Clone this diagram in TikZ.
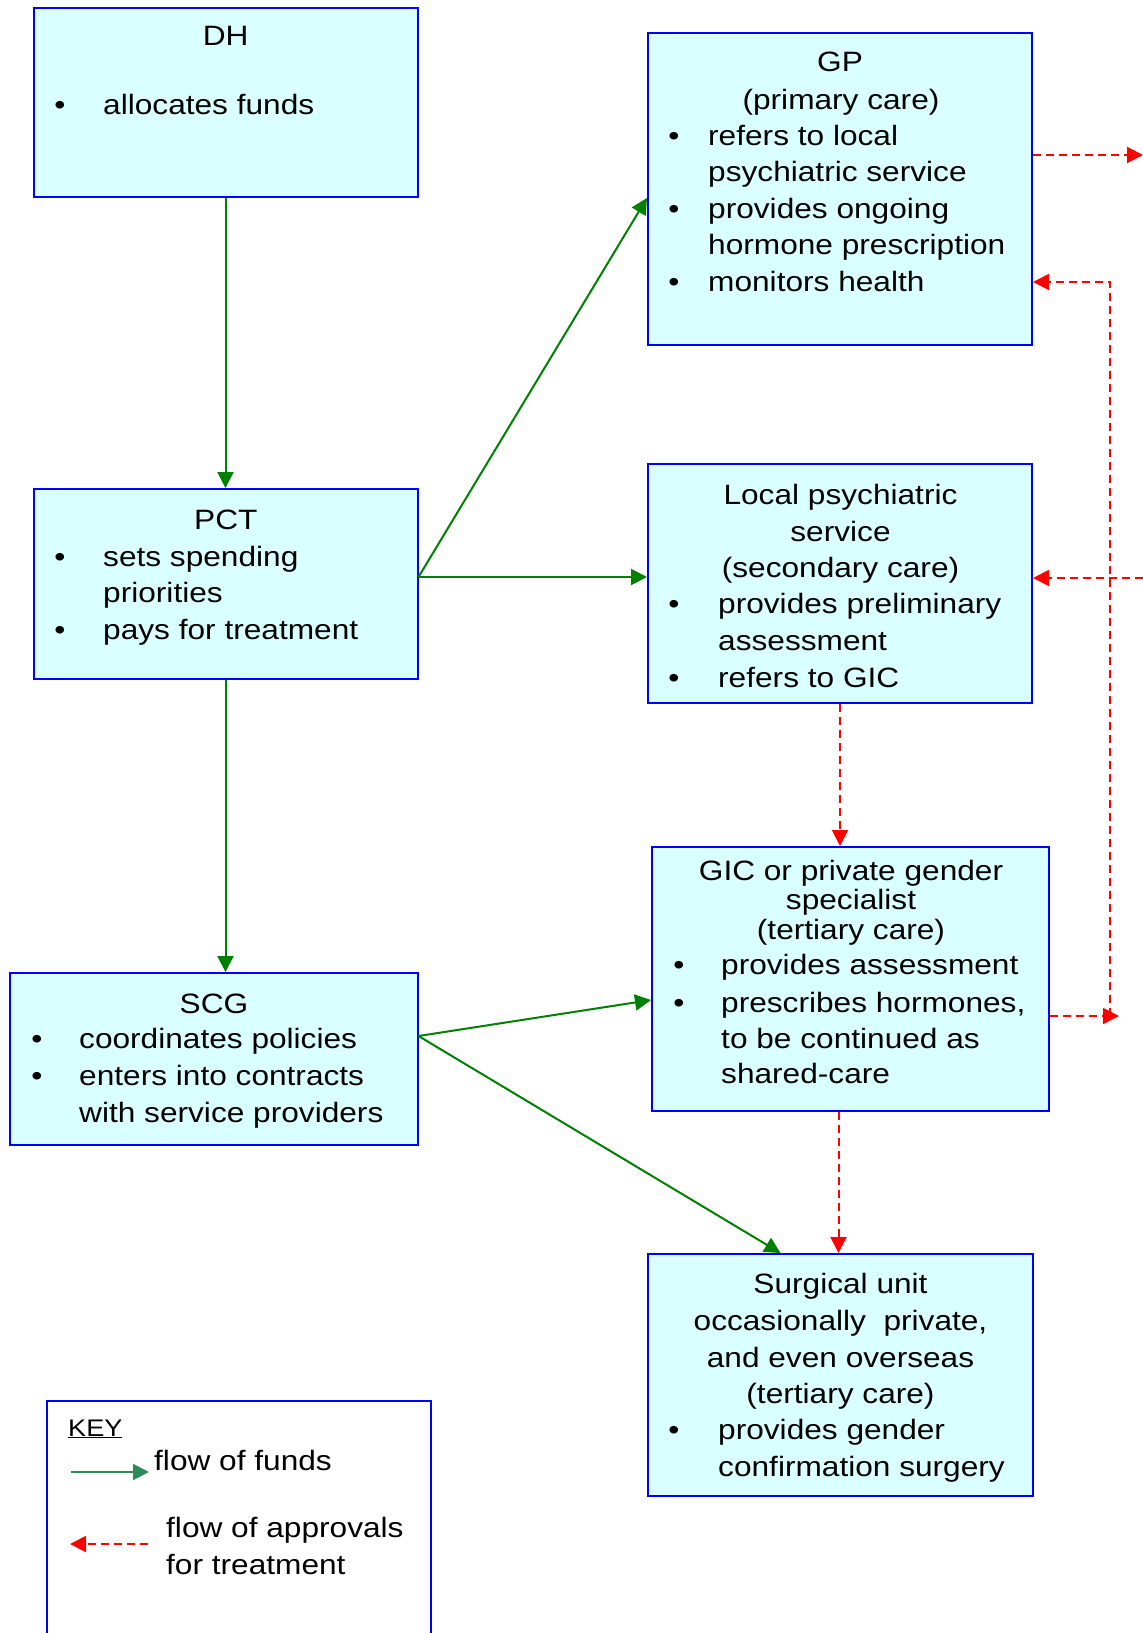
\documentclass[tikz,border=0pt]{standalone}
\usepackage{fontspec}
\setmainfont{Liberation Sans}[FakeStretch=1.13]
\usetikzlibrary{arrows.meta}
\definecolor{boxblue}{RGB}{0,0,255}
\definecolor{boxfill}{RGB}{218,255,255}
\definecolor{fundgreen}{RGB}{0,128,0}
\definecolor{keygreen}{RGB}{46,139,87}
\definecolor{apprred}{RGB}{255,0,0}
\newcommand{\bodyfnt}{\fontsize{28}{36}\selectfont}
\newcommand{\keyfnt}{\fontsize{24}{30}\selectfont}
\tikzset{
  box/.style={draw=boxblue, fill=boxfill, line width=2pt, rectangle, inner sep=0pt},
  fund/.style={draw=fundgreen, line width=2pt, -{Triangle[length=16pt,width=16pt]}},
  keyfund/.style={draw=keygreen, line width=2pt, -{Triangle[length=16pt,width=16pt]}},
  appr/.style={draw=apprred, line width=2pt, dash pattern=on 8pt off 5pt, -{Triangle[length=16pt,width=16pt]}},
  tx/.style={inner sep=0pt, font=\bodyfnt},
  lt/.style={tx, anchor=base west},
  ct/.style={tx, anchor=base},
}
\begin{document}
\begin{tikzpicture}[x=1pt,y=-1pt]
\useasboundingbox (0,0) rectangle (1143,1633);

% boxes
\node[box, minimum width=384pt, minimum height=189.5pt] (dh) at (225.5,102.25) {};
\node[box, minimum width=384pt, minimum height=312pt] (gp) at (840,189) {};
\node[box, minimum width=384pt, minimum height=190pt] (pct) at (225.5,584) {};
\node[box, minimum width=384pt, minimum height=239pt] (loc) at (840,583.5) {};
\node[box, minimum width=397pt, minimum height=264pt] (gic) at (850.5,979) {};
\node[box, minimum width=408pt, minimum height=172pt] (scg) at (213.5,1059) {};
\node[box, minimum width=385pt, minimum height=242pt] (surg) at (840.5,1375) {};
\draw[draw=boxblue, line width=2pt] (47,1633) -- (47,1401) -- (431,1401) -- (431,1633);

% DH
\node[ct] (dh0) at (225.7,45.7) {DH};
\node[ct] (dhb1) at (60,114) {•};
\node[lt] (dh1) at (103,114) {allocates funds};

% GP
\node[ct] (gp0) at (840,71.7) {GP};
\node[ct] (gp00) at (841,109) {(primary care)};
\node[ct] (gpb1) at (674,145) {•};
\node[ct] (gpb2) at (674,218) {•};
\node[ct] (gpb3) at (674,291.7) {•};
\node[lt] (gp1) at (708,145) {refers to local};
\node[lt] (gp2) at (708,181.7) {psychiatric service};
\node[lt] (gp3) at (708,218) {provides ongoing};
\node[lt] (gp4) at (708,254) {hormone prescription};
\node[lt] (gp5) at (708,291.7) {monitors health};

% PCT
\node[ct] (pct0) at (225.8,529) {PCT};
\node[ct] (pctb1) at (60,566) {•};
\node[ct] (pctb2) at (60,639) {•};
\node[lt] (pct1) at (103,566) {sets spending};
\node[lt] (pct2) at (103,602) {priorities};
\node[lt] (pct3) at (103,639) {pays for treatment};

% Local psychiatric service
\node[ct] (loc0) at (840.5,504) {Local psychiatric};
\node[ct] (loc00) at (840.5,541) {service};
\node[ct] (loc000) at (840.5,577) {(secondary care)};
\node[ct] (locb1) at (674,613) {•};
\node[ct] (locb2) at (674,687) {•};
\node[lt] (loc1) at (718,613) {provides preliminary};
\node[lt] (loc2) at (718,650) {assessment};
\node[lt] (loc3) at (718,687) {refers to GIC};

% GIC
\node[ct] (gic0) at (851,880) {GIC or private gender};
\node[ct] (gic00) at (851,909) {specialist};
\node[ct] (gic000) at (851,939) {(tertiary care)};
\node[ct] (gicb1) at (679,974) {•};
\node[ct] (gicb2) at (679,1012) {•};
\node[lt] (gic1) at (721,974) {provides assessment};
\node[lt] (gic2) at (721,1012) {prescribes hormones,};
\node[lt] (gic3) at (721,1048) {to be continued as};
\node[lt] (gic4) at (721,1083) {shared-care};

% SCG
\node[ct] (scg0) at (214,1013) {SCG};
\node[ct] (scgb1) at (37,1048) {•};
\node[ct] (scgb2) at (37,1085) {•};
\node[lt] (scg1) at (79,1048) {coordinates policies};
\node[lt] (scg2) at (79,1085) {enters into contracts};
\node[lt] (scg3) at (79,1122) {with service providers};

% Surgical unit
\node[ct] (su0) at (840.5,1293) {Surgical unit};
\node[ct] (su00) at (840.5,1330) {occasionally\ \ private,};
\node[ct] (su000) at (840.5,1367) {and even overseas};
\node[ct] (su0000) at (840.5,1403) {(tertiary care)};
\node[ct] (sub1) at (674,1439) {•};
\node[lt] (su1) at (718,1439) {provides gender};
\node[lt] (su2) at (718,1476) {confirmation surgery};

% Key
\node[tx, anchor=base west, font=\keyfnt] (keyt) at (68,1436) {\underline{KEY}};
\node[lt] (key1) at (154,1470) {flow of funds};
\node[lt] (key2) at (166,1537) {flow of approvals};
\node[lt] (key3) at (166,1574) {for treatment};
\coordinate (kg1) at (71,1472);
\coordinate (kg2) at (149,1472);
\coordinate (kr1) at (148,1544);
\coordinate (kr2) at (70,1544);
\draw[keyfund] (kg1) -- (kg2);
\draw[appr] (kr1) -- (kr2);

% funds connectors
\draw[fund] (dh.south) -- (pct.north);
\draw[fund] ([yshift=7pt]pct.east) -- ([yshift=-9pt]gp.west);
\draw[fund] ([yshift=7pt]pct.east) -- ([yshift=7pt]pct.east -| loc.west);
\draw[fund] (pct.south) -- (pct.south |- scg.north);
\draw[fund] ([yshift=23pt]scg.east) -- ([yshift=-21pt]gic.west);
\draw[fund] ([yshift=23pt]scg.east) -- ([xshift=-60pt]surg.north);

% approvals connectors
\coordinate (edgeA) at (1143,155);
\coordinate (edgeB) at (1143,578);
\coordinate (vtop) at (1110,282);
\coordinate (vbot) at (1110,1016);
\coordinate (vtip) at (1119,1016);
\draw[appr] (gp.east |- edgeA) -- (edgeA);
\draw[appr] (edgeB) -- (loc.east |- edgeB);
\draw[appr] (vbot) -- (vtop) -- (gp.east |- vtop);
\draw[appr] (gic.east |- vbot) -- (vtip);
\draw[appr] (loc.south) -- (loc.south |- gic.north);
\draw[appr] ([xshift=-12pt]gic.south) -- ([xshift=-12pt]gic.south |- surg.north);
\end{tikzpicture}
\end{document}
